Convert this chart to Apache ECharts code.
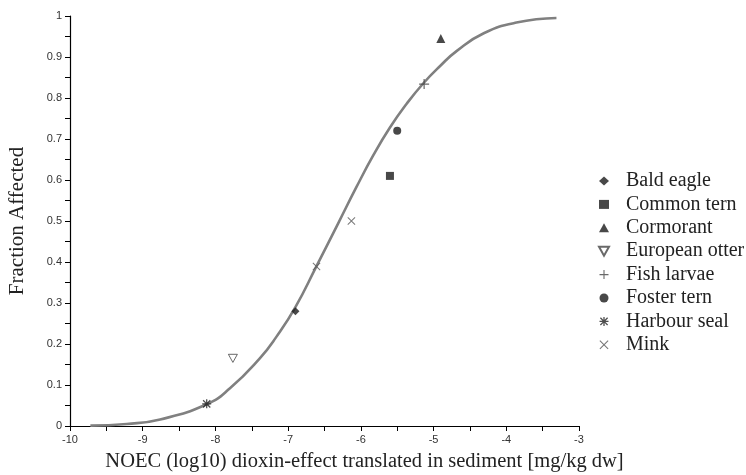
<!DOCTYPE html>
<html>
<head>
<meta charset="utf-8">
<script src="https://cdn.jsdelivr.net/npm/echarts@6/dist/echarts.min.js"></script>
<style>
  html, body { margin: 0; padding: 0; background: #fff; }
  #chart { width: 746px; height: 475px; }
</style>
</head>
<body>
<div id="chart"></div>
<script>
// fitted curve
const curveX = [-9.72, -9.22, -8.76, -8.12, -7.8, -7.39, -7.16, -6.9, -6.61, -6.31, -6.06, -5.83, -5.6, -5.37, -5.14, -4.91, -4.68, -4.31, -3.86, -3.31];
const curveY = [0.001, 0.005, 0.016, 0.053, 0.092, 0.165, 0.218, 0.29, 0.39, 0.495, 0.583, 0.66, 0.728, 0.786, 0.836, 0.878, 0.915, 0.958, 0.984, 0.995];

// species points [x, y]
const baldEagle = [[-6.9, 0.28]];
const commonTern = [[-5.6, 0.61]];
const cormorant = [[-4.9, 0.945]];
const europeanOtter = [[-7.76, 0.165]];
const fishLarvae = [[-5.13, 0.834]];
const fosterTern = [[-5.5, 0.72]];
const harbourSeal = [[-8.12, 0.054]];
const mink = [[-6.13, 0.5], [-6.61, 0.389]];

const speciesNames = ["Bald eagle", "Common tern", "Cormorant", "European otter", "Fish larvae", "Foster tern", "Harbour seal", "Mink"];

const plusPath = "path://M4.4,0H5.6V10H4.4Z M0,4.4H10V5.6H0Z";
const crossPath = "path://M1,0.2L5,4.2L9,0.2L9.8,1L5.8,5L9.8,9L9,9.8L5,5.8L1,9.8L0.2,9L4.2,5L0.2,1Z";
const starPath = "path://M4.3,0H5.7V10H4.3Z M0,4.3H10V5.7H0Z M1.5,0.5L5,4L8.5,0.5L9.5,1.5L6,5L9.5,8.5L8.5,9.5L5,6L1.5,9.5L0.5,8.5L4,5L0.5,1.5Z";
const downTri = "path://M0,0L10,0L5,9Z";

const chart = echarts.init(document.getElementById("chart"));
const serif = "'Liberation Serif', 'Times New Roman', serif";
const sans = "'Liberation Sans', Arial, sans-serif";
const dark = "#1a1a1a";

function pts(name, data, symbol, size, style) {
  return {
    name, type: "scatter", data, symbol, symbolSize: size,
    symbolKeepAspect: true,
    itemStyle: style || { color: dark },
    z: 5
  };
}

chart.setOption({
  animation: false,
  backgroundColor: "#fff",
  grid: { left: 70, right: 167, top: 16, bottom: 49, outerBoundsMode: "none" },
  xAxis: {
    type: "value", min: -10, max: -3, interval: 1,
    name: "NOEC (log10) dioxin-effect translated in sediment [mg/kg dw]",
    nameLocation: "middle", nameGap: 25,
    nameTextStyle: { fontFamily: serif, fontSize: 20.5, color: "#222", padding: [0, 0, 0, 80] },
    axisLine: { onZero: false, lineStyle: { color: "#000", width: 1.2 } },
    axisTick: { inside: false, length: 5, lineStyle: { color: "#000" } },
    minorTick: { show: true, splitNumber: 2, length: 5, lineStyle: { color: "#000" } },
    axisLabel: { fontFamily: sans, fontSize: 11, color: "#333", margin: 8 },
    splitLine: { show: false }
  },
  yAxis: {
    type: "value", min: 0, max: 1, interval: 0.1,
    name: "Fraction Affected",
    nameLocation: "middle", nameGap: 42,
    nameTextStyle: { fontFamily: serif, fontSize: 21, color: "#222" },
    axisLine: { show: true, onZero: false, lineStyle: { color: "#000", width: 1.2 } },
    axisTick: { show: true, inside: false, length: 5, lineStyle: { color: "#000" } },
    minorTick: { show: true, splitNumber: 2, length: 5, lineStyle: { color: "#000" } },
    axisLabel: {
      fontFamily: sans, fontSize: 11, color: "#333", margin: 8,
      formatter: v => String(Math.round(v * 10) / 10)
    },
    splitLine: { show: false }
  },
  legend: {
    data: speciesNames,
    orient: "vertical",
    left: 593, top: 166,
    itemWidth: 10, itemHeight: 9, itemGap: 3.4,
    textStyle: { fontFamily: serif, fontSize: 20, color: "#222", lineHeight: 20, padding: [0, 0, 0, 12] }
  },
  series: [
    {
      name: "curve", type: "line", smooth: true, showSymbol: false,
      data: curveX.map((x, i) => [x, curveY[i]]),
      lineStyle: { color: "#808080", width: 2.6 },
      z: 2
    },
    pts("Bald eagle", baldEagle, "diamond", 8),
    pts("Common tern", commonTern, "rect", 8),
    pts("Cormorant", cormorant, "triangle", 9),
    pts("European otter", europeanOtter, downTri, 9, { color: "#fff", borderColor: "#444", borderWidth: 1 }),
    pts("Fish larvae", fishLarvae, plusPath, 10, { color: "#444" }),
    pts("Foster tern", fosterTern, "circle", 8),
    pts("Harbour seal", harbourSeal, starPath, 9, { color: "#222" }),
    pts("Mink", mink, crossPath, 8, { color: "#555" })
  ]
});
</script>
</body>
</html>
